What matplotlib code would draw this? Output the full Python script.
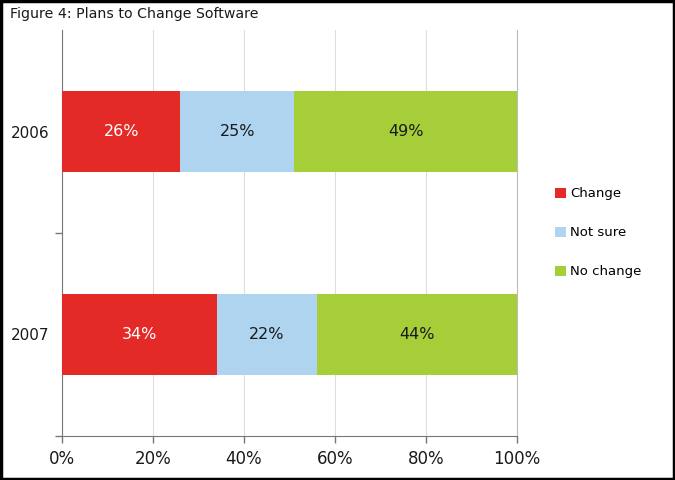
import matplotlib
matplotlib.use("Agg")
import matplotlib.pyplot as plt
from matplotlib.patches import Rectangle, Patch
import numpy as np

years = ["2006", "2007"]
series = ["Change", "Not sure", "No change"]
values = {
    "Change": [26, 34],
    "Not sure": [25, 22],
    "No change": [49, 44],
}
colors = {"Change": "#E42A27", "Not sure": "#AED4F0", "No change": "#A6CE39"}
text_colors = {"Change": "white", "Not sure": "#1a1a1a", "No change": "#1a1a1a"}
xticks = [0, 20, 40, 60, 80, 100]

fig = plt.figure(figsize=(6.75, 4.8), dpi=100)
ax = fig.add_axes([62/675, 1-436/480, (517-62)/675, (436-30)/480])

y = np.arange(len(years))
left = np.zeros(len(years))
for s in series:
    v = np.array(values[s], dtype=float)
    ax.barh(y, v, left=left, height=0.4, color=colors[s], edgecolor="none", zorder=3, label=s)
    for yi, (l, w) in enumerate(zip(left, v)):
        ax.text(l + w/2, yi, f"{int(w)}%", ha="center", va="center",
                color=text_colors[s], fontsize=11.5, zorder=4)
    left += v

ax.set_xlim(0, 100)
ax.set_ylim(1.5, -0.5)
ax.set_xticks(xticks)
ax.set_xticklabels([f"{t}%" for t in xticks], fontsize=12, color="#1a1a1a")
ax.set_yticks(y)
ax.set_yticklabels(years, fontsize=11, color="#1a1a1a")
ax.set_yticks([0.5, 1.5], minor=True)
ax.tick_params(axis="y", which="major", length=0, pad=9)
ax.tick_params(axis="y", which="minor", length=5, width=1, color="#777777")
ax.tick_params(axis="x", length=5, width=1, color="#777777", pad=5)
ax.grid(axis="x", color="#dddddd", linewidth=0.8, zorder=0)
ax.spines["top"].set_visible(False)
ax.spines["right"].set_color("#bbbbbb")
ax.spines["left"].set_color("#777777")
ax.spines["bottom"].set_color("#777777")

handles = [Patch(facecolor=colors[s], label=s) for s in series]
leg = fig.legend(handles=handles, loc="upper left", bbox_to_anchor=(550/675, 1-182/480),
                 frameon=False, fontsize=9.5, handlelength=0.8, handleheight=0.8,
                 handletextpad=0.35, labelspacing=1.97, borderaxespad=0)

fig.text(10/675, 1-14/480, "Figure 4: Plans to Change Software", fontsize=10.2,
         ha="left", va="center", color="#1a1a1a")

fig.patches.append(Rectangle((0.002, 0.003), 0.996, 0.994, transform=fig.transFigure,
                             fill=False, edgecolor="black", linewidth=2.5))

fig.savefig("out.png", dpi=100)
